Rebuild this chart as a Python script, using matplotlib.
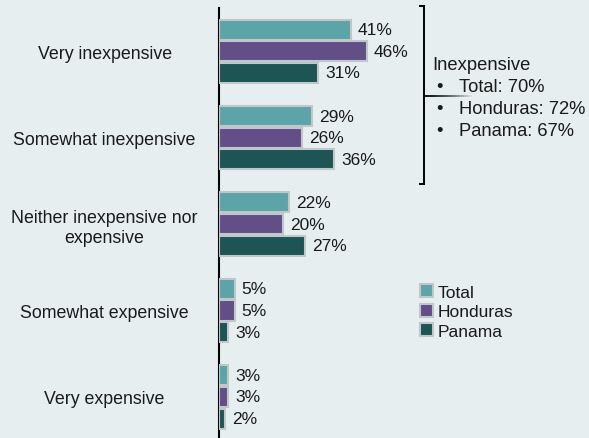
import matplotlib
matplotlib.use("Agg")
import matplotlib.pyplot as plt
from matplotlib.patches import Patch
from matplotlib.lines import Line2D
import numpy as np

plt.rcParams['font.family'] = ['Liberation Sans', 'DejaVu Sans']

categories = ["Very inexpensive", "Somewhat inexpensive",
              "Neither inexpensive nor\nexpensive", "Somewhat expensive",
              "Very expensive"]
series_names = ["Total", "Honduras", "Panama"]
total = [41, 29, 22, 5, 3]
honduras = [46, 26, 20, 5, 3]
panama = [31, 36, 27, 3, 2]
summary_title = "Inexpensive"
summary_lines = ["Total: 70%", "Honduras: 72%", "Panama: 67%"]

colors = ["#5CA4A7", "#634E88", "#1D5454"]
edge = "#BFC7CB"
bg = "#E6EEF0"
txt = "#1A1A1A"

W, H = 589, 439
fig = plt.figure(figsize=(W / 100, H / 100), dpi=100, facecolor=bg)
ax_left, ax_right, ax_top, ax_bot = 218.5, 589, 9, 439
ax = fig.add_axes([ax_left / W, 1 - ax_bot / H, (ax_right - ax_left) / W,
                   (ax_bot - ax_top) / H])
ax.set_facecolor(bg)

px_per_pct = 3.22
ax.set_xlim(0, (ax_right - ax_left) / px_per_pct)
ax.set_ylim(4.475, -0.5)

y = np.arange(len(categories))
bar_h = 0.232
offs = [-0.25, 0.0, 0.25]
for vals, off, c in zip([total, honduras, panama], offs, colors):
    bars = ax.barh(y + off, vals, height=bar_h, color=c, edgecolor=edge,
                   linewidth=1.5, zorder=2)
    for b, v in zip(bars, vals):
        ax.text(v + 2.1, b.get_y() + b.get_height() / 2, f"{v}%",
                va="center", ha="left", fontsize=12.5, color=txt)

for s in ["top", "right", "bottom"]:
    ax.spines[s].set_visible(False)
ax.spines["left"].set_color("black")
ax.spines["left"].set_linewidth(1.5)
ax.spines["left"].set_zorder(1)
ax.set_xticks([])
ax.set_yticks(y)
ax.set_yticklabels(categories, fontsize=12.8, color=txt, ha="center",
                   linespacing=1.25)
ax.tick_params(axis="y", length=0, pad=82)

# bracket grouping the two "inexpensive" answers
bx, top_y, bot_y = 424, 7, 185
def fx(px):
    return px / W
def fy(py):
    return 1 - py / H
fig.add_artist(Line2D([fx(bx), fx(bx)], [fy(top_y), fy(bot_y)], color="black", lw=1.4))
fig.add_artist(Line2D([fx(bx - 4), fx(bx)], [fy(top_y), fy(top_y)], color="black", lw=1.4))
fig.add_artist(Line2D([fx(bx - 4), fx(bx)], [fy(bot_y), fy(bot_y)], color="black", lw=1.4))
n = 24
for i in range(n):
    x0 = bx + i * 48 / n
    x1 = bx + (i + 1) * 48 / n
    fig.add_artist(Line2D([fx(x0), fx(x1)], [fy(97), fy(97)], color="black",
                          lw=1.3, alpha=max(0.0, 1 - (i / n) ** 1.5),
                          solid_capstyle="butt"))

fig.text(fx(432), fy(65), summary_title, fontsize=13.2, va="center", ha="left",
         color=txt)
for yy, line in zip([88, 110, 131], summary_lines):
    fig.text(fx(436), fy(yy), "•", fontsize=13.2, va="center", ha="left", color=txt)
    fig.text(fx(459), fy(yy), line, fontsize=13.2, va="center", ha="left", color=txt)

handles = [Patch(facecolor=c, edgecolor=edge, linewidth=1.5) for c in colors]
fig.legend(handles, series_names, loc="upper left",
           bbox_to_anchor=(fx(408), fy(273)), frameon=False, fontsize=12.5,
           handlelength=0.75, handleheight=0.8, handletextpad=0.25,
           labelspacing=0.22, borderpad=0.2, labelcolor=txt)

fig.savefig("out.png", dpi=100, facecolor=bg)
